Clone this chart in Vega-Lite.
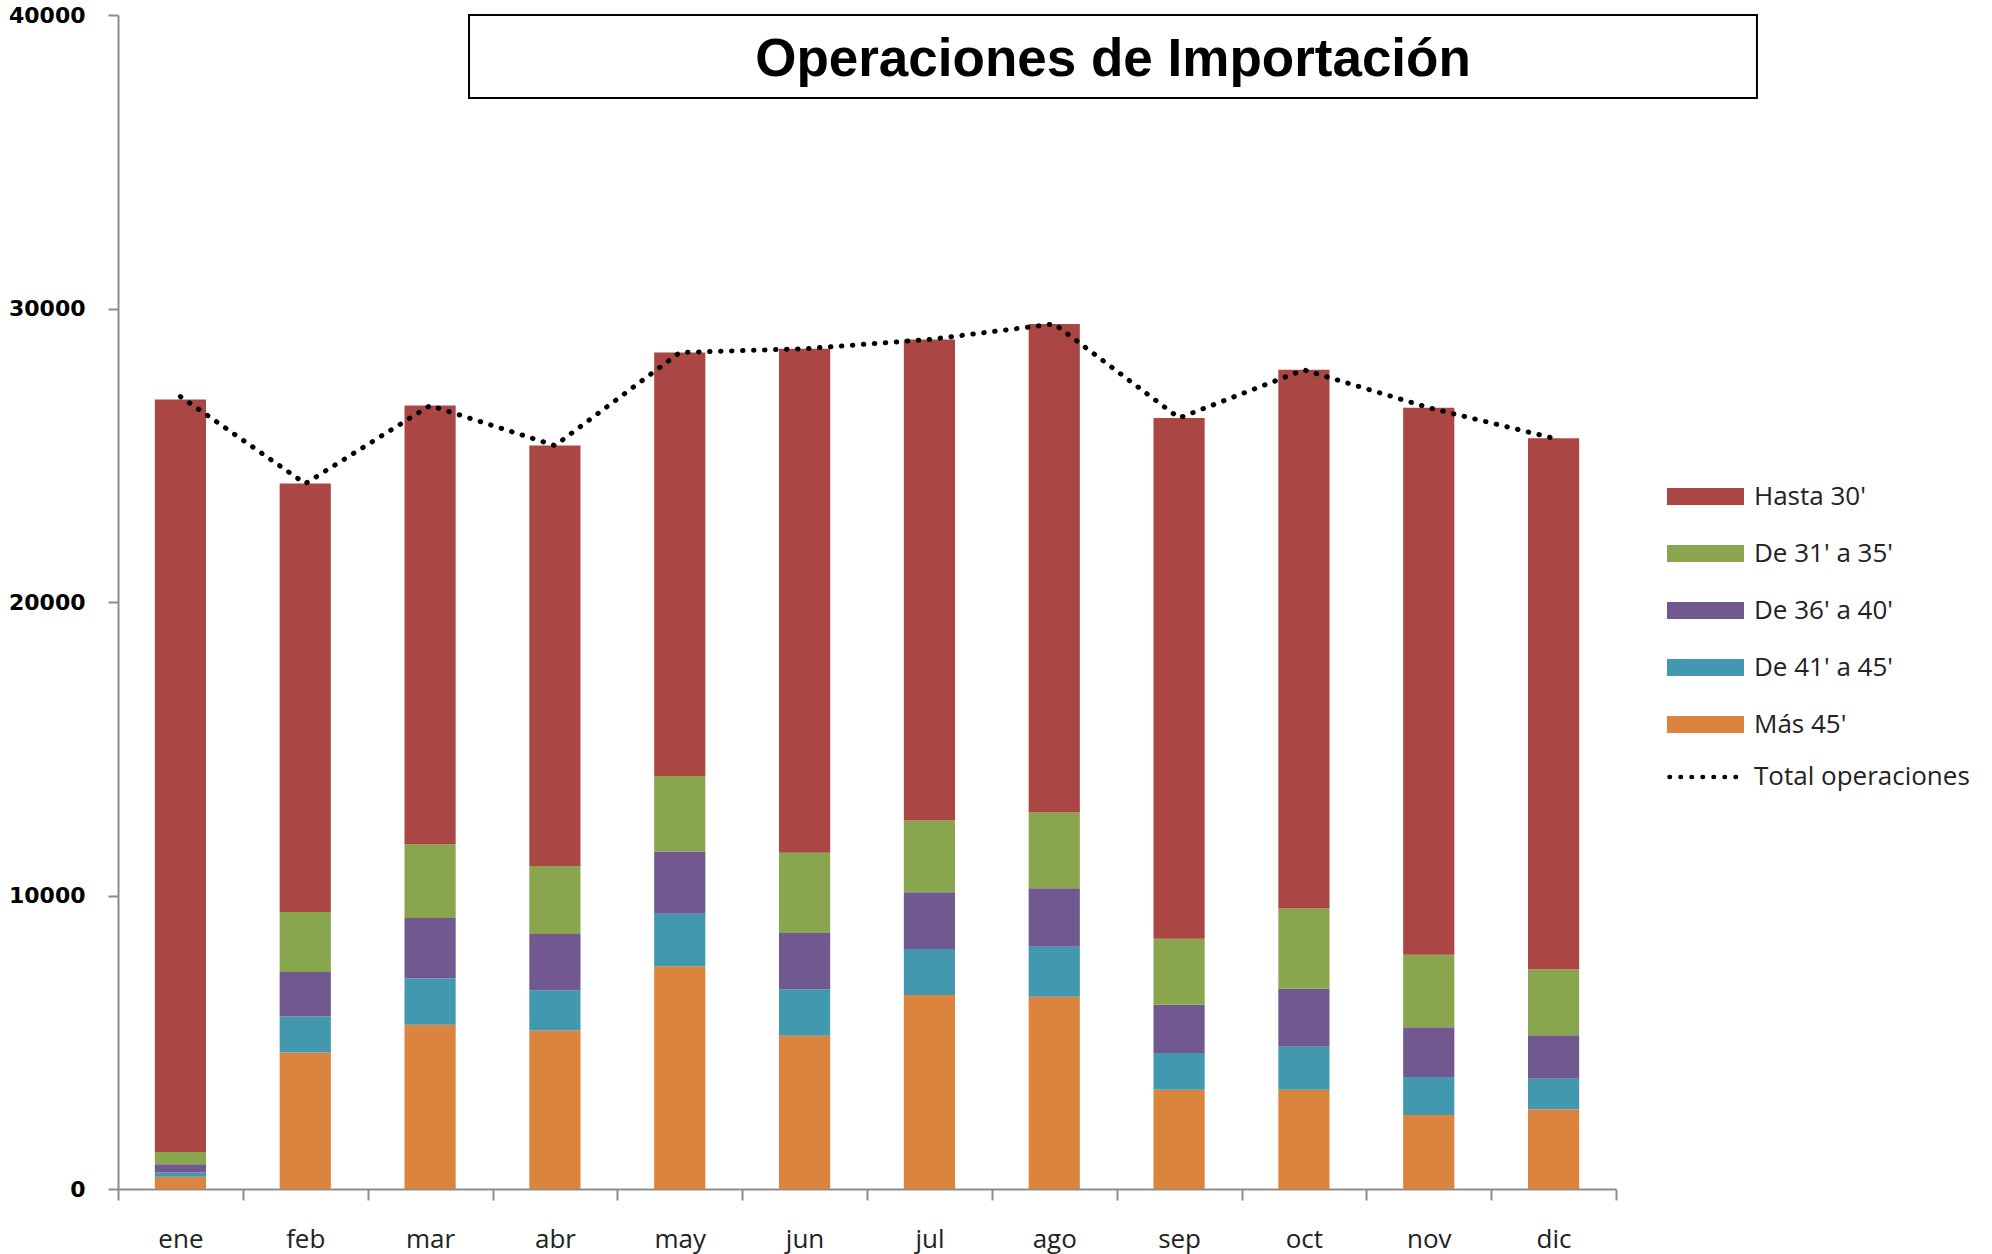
{
  "$schema": "https://vega.github.io/schema/vega-lite/v6.json",
  "width": 1498,
  "height": 1174,
  "autosize": "none",
  "padding": {"left": 118, "top": 15, "right": 376, "bottom": 65},
  "background": "white",
  "config": {"view": {"stroke": null}, "font": "Open Sans"},
  "title": {
    "text": "Operaciones de Importación",
    "font": "Liberation Sans",
    "fontSize": 53,
    "fontWeight": "bold",
    "color": "#000000",
    "anchor": "middle",
    "frame": "group",
    "baseline": "alphabetic",
    "offset": 0,
    "dx": 246,
    "dy": 125
  },
  "datasets": {
    "barras": [
      {"mes": "ene", "serie": "Más 45'", "valor": 420},
      {"mes": "ene", "serie": "De 41' a 45'", "valor": 145},
      {"mes": "ene", "serie": "De 36' a 40'", "valor": 275},
      {"mes": "ene", "serie": "De 31' a 35'", "valor": 420},
      {"mes": "ene", "serie": "Hasta 30'", "valor": 25640},
      {"mes": "feb", "serie": "Más 45'", "valor": 4650},
      {"mes": "feb", "serie": "De 41' a 45'", "valor": 1225},
      {"mes": "feb", "serie": "De 36' a 40'", "valor": 1515},
      {"mes": "feb", "serie": "De 31' a 35'", "valor": 2045},
      {"mes": "feb", "serie": "Hasta 30'", "valor": 14600},
      {"mes": "mar", "serie": "Más 45'", "valor": 5600},
      {"mes": "mar", "serie": "De 41' a 45'", "valor": 1570},
      {"mes": "mar", "serie": "De 36' a 40'", "valor": 2060},
      {"mes": "mar", "serie": "De 31' a 35'", "valor": 2520},
      {"mes": "mar", "serie": "Hasta 30'", "valor": 14945},
      {"mes": "abr", "serie": "Más 45'", "valor": 5400},
      {"mes": "abr", "serie": "De 41' a 45'", "valor": 1370},
      {"mes": "abr", "serie": "De 36' a 40'", "valor": 1915},
      {"mes": "abr", "serie": "De 31' a 35'", "valor": 2320},
      {"mes": "abr", "serie": "Hasta 30'", "valor": 14325},
      {"mes": "may", "serie": "Más 45'", "valor": 7590},
      {"mes": "may", "serie": "De 41' a 45'", "valor": 1790},
      {"mes": "may", "serie": "De 36' a 40'", "valor": 2115},
      {"mes": "may", "serie": "De 31' a 35'", "valor": 2575},
      {"mes": "may", "serie": "Hasta 30'", "valor": 14430},
      {"mes": "jun", "serie": "Más 45'", "valor": 5220},
      {"mes": "jun", "serie": "De 41' a 45'", "valor": 1585},
      {"mes": "jun", "serie": "De 36' a 40'", "valor": 1915},
      {"mes": "jun", "serie": "De 31' a 35'", "valor": 2740},
      {"mes": "jun", "serie": "Hasta 30'", "valor": 17170},
      {"mes": "jul", "serie": "Más 45'", "valor": 6610},
      {"mes": "jul", "serie": "De 41' a 45'", "valor": 1565},
      {"mes": "jul", "serie": "De 36' a 40'", "valor": 1935},
      {"mes": "jul", "serie": "De 31' a 35'", "valor": 2445},
      {"mes": "jul", "serie": "Hasta 30'", "valor": 16390},
      {"mes": "ago", "serie": "Más 45'", "valor": 6550},
      {"mes": "ago", "serie": "De 41' a 45'", "valor": 1700},
      {"mes": "ago", "serie": "De 36' a 40'", "valor": 1995},
      {"mes": "ago", "serie": "De 31' a 35'", "valor": 2585},
      {"mes": "ago", "serie": "Hasta 30'", "valor": 16645},
      {"mes": "sep", "serie": "Más 45'", "valor": 3385},
      {"mes": "sep", "serie": "De 41' a 45'", "valor": 1250},
      {"mes": "sep", "serie": "De 36' a 40'", "valor": 1645},
      {"mes": "sep", "serie": "De 31' a 35'", "valor": 2250},
      {"mes": "sep", "serie": "Hasta 30'", "valor": 17740},
      {"mes": "oct", "serie": "Más 45'", "valor": 3385},
      {"mes": "oct", "serie": "De 41' a 45'", "valor": 1465},
      {"mes": "oct", "serie": "De 36' a 40'", "valor": 1975},
      {"mes": "oct", "serie": "De 31' a 35'", "valor": 2740},
      {"mes": "oct", "serie": "Hasta 30'", "valor": 18345},
      {"mes": "nov", "serie": "Más 45'", "valor": 2525},
      {"mes": "nov", "serie": "De 41' a 45'", "valor": 1290},
      {"mes": "nov", "serie": "De 36' a 40'", "valor": 1700},
      {"mes": "nov", "serie": "De 31' a 35'", "valor": 2465},
      {"mes": "nov", "serie": "Hasta 30'", "valor": 18640},
      {"mes": "dic", "serie": "Más 45'", "valor": 2720},
      {"mes": "dic", "serie": "De 41' a 45'", "valor": 1035},
      {"mes": "dic", "serie": "De 36' a 40'", "valor": 1485},
      {"mes": "dic", "serie": "De 31' a 35'", "valor": 2250},
      {"mes": "dic", "serie": "Hasta 30'", "valor": 18090}
    ],
    "totales": [
      {"mes": "ene", "total": 27000},
      {"mes": "feb", "total": 24035},
      {"mes": "mar", "total": 26695},
      {"mes": "abr", "total": 25330},
      {"mes": "may", "total": 28500},
      {"mes": "jun", "total": 28630},
      {"mes": "jul", "total": 28945},
      {"mes": "ago", "total": 29475},
      {"mes": "sep", "total": 26270},
      {"mes": "oct", "total": 27910},
      {"mes": "nov", "total": 26620},
      {"mes": "dic", "total": 25580}
    ]
  },
  "layer": [
    {
      "layer": [
        {
          "data": {"name": "barras"},
          "transform": [
            {"calculate": "indexof([\"Más 45'\", \"De 41' a 45'\", \"De 36' a 40'\", \"De 31' a 35'\", \"Hasta 30'\"], datum.serie)", "as": "orden"}
          ],
          "mark": {"type": "bar", "width": {"band": 0.41}},
          "encoding": {
            "x": {
              "field": "mes",
              "type": "ordinal",
              "scale": {
                "domain": ["ene", "feb", "mar", "abr", "may", "jun", "jul", "ago", "sep", "oct", "nov", "dic"],
                "paddingInner": 0,
                "paddingOuter": 0
              },
              "axis": {
                "title": null,
                "labelAngle": 0,
                "tickBand": "extent",
                "tickSize": 11,
                "tickWidth": 2,
                "tickColor": "#8c8c8c",
                "domainColor": "#8c8c8c",
                "domainWidth": 2,
                "labelFont": "Open Sans",
                "labelFontSize": 26,
                "labelColor": "#222222",
                "labelBaseline": "alphabetic",
                "labelPadding": 47
              }
            },
            "y": {
              "field": "valor",
              "type": "quantitative",
              "stack": "zero",
              "scale": {"domain": [0, 40000], "nice": false},
              "axis": {
                "title": null,
                "values": [0, 10000, 20000, 30000, 40000],
                "format": "d",
                "grid": false,
                "labelFont": "DejaVu Sans",
                "labelFontWeight": "bold",
                "labelFontSize": 22,
                "labelColor": "#000000",
                "labelPadding": 23,
                "tickSize": 10,
                "tickWidth": 2,
                "tickColor": "#8c8c8c",
                "domainColor": "#8c8c8c",
                "domainWidth": 2
              }
            },
            "color": {
              "field": "serie",
              "type": "nominal",
              "scale": {
                "domain": ["Hasta 30'", "De 31' a 35'", "De 36' a 40'", "De 41' a 45'", "Más 45'"],
                "range": ["#AA4643", "#89A54E", "#71588F", "#4198AF", "#DB843D"]
              },
              "legend": {
                "title": null,
                "orient": "none",
                "legendX": 1549,
                "legendY": 443,
                "padding": 0,
                "symbolType": "M-1,-0.22H1V0.22H-1Z",
                "symbolSize": 5929,
                "symbolStrokeWidth": 0,
                "symbolOpacity": 1,
                "labelFont": "Open Sans",
                "labelFontSize": 26,
                "labelColor": "#222222",
                "labelOffset": 10,
                "labelLimit": 400,
                "rowPadding": 5
              }
            },
            "order": {"field": "orden", "type": "quantitative", "sort": "ascending"}
          }
        },
        {
          "data": {"name": "totales"},
          "mark": {"type": "line", "color": "#000000", "strokeWidth": 5, "strokeCap": "round"},
          "encoding": {
            "x": {
              "field": "mes",
              "type": "ordinal",
              "scale": {"domain": ["ene", "feb", "mar", "abr", "may", "jun", "jul", "ago", "sep", "oct", "nov", "dic"]}
            },
            "y": {"field": "total", "type": "quantitative"},
            "strokeDash": {
              "datum": "Total operaciones",
              "type": "nominal",
              "scale": {"domain": ["Total operaciones"], "range": [[0.5, 10.5]]},
              "legend": {
                "title": null,
                "orient": "none",
                "legendX": 1549,
                "legendY": 721,
                "padding": 0,
                "symbolType": "stroke",
                "symbolSize": 5929,
                "symbolStrokeWidth": 4.5,
                "symbolStrokeColor": "#000000",
                "labelFont": "Open Sans",
                "labelFontSize": 26,
                "labelColor": "#222222",
                "labelOffset": 5,
                "labelLimit": 400,
                "encoding": {"symbols": {"strokeCap": {"value": "round"}}}
              }
            }
          }
        }
      ]
    },
    {
      "data": {"values": [{}]},
      "mark": {"type": "rect", "fill": "#ffffff", "stroke": "#000000", "strokeWidth": 2},
      "encoding": {
        "x": {"datum": 0.2343, "type": "quantitative", "scale": {"domain": [0, 1], "nice": false, "zero": false}, "axis": null},
        "x2": {"datum": 1.0941},
        "y": {"datum": 40000, "type": "quantitative"},
        "y2": {"datum": 37172}
      }
    }
  ],
  "resolve": {"scale": {"x": "independent"}}
}
